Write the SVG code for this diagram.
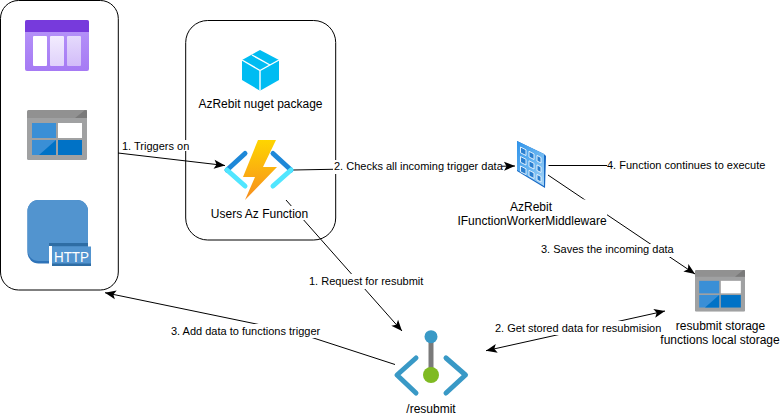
<svg xmlns="http://www.w3.org/2000/svg" xmlns:xlink="http://www.w3.org/1999/xlink" width="781" height="418" viewBox="0 0 781 418">
<style>
text{font-family:"Liberation Sans",Arial,Helvetica,sans-serif;fill:#000}
.n{font-size:12px;text-anchor:middle}
.e{font-size:11px}
.box{fill:#fff;stroke:#000;stroke-width:1}
.c{fill:none;stroke:#000;stroke-width:1;marker-end:url(#a)}
.bg{fill:#fff}
.chev{fill:none;stroke-width:5;stroke-linecap:round;stroke-linejoin:round}
</style>
<defs>
<marker id="a" markerUnits="userSpaceOnUse" markerWidth="14" markerHeight="12" refX="12" refY="6" orient="auto-start-reverse">
<path d="M1,1.5 L12,6 L1,10.5 L3.5,6 Z" fill="#000"/>
</marker>
<linearGradient id="pg" x1="0" y1="0" x2="0" y2="1"><stop offset="0" stop-color="#b796f9"/><stop offset="1" stop-color="#a67af4"/></linearGradient>
<linearGradient id="pc2" x1="0" y1="0" x2="0" y2="1"><stop offset="0" stop-color="#f2ecfe"/><stop offset="1" stop-color="#e0d2fb"/></linearGradient>
<linearGradient id="pc3" x1="0" y1="0" x2="0" y2="1"><stop offset="0" stop-color="#e5dafc"/><stop offset="1" stop-color="#d2bcf9"/></linearGradient>
<linearGradient id="bolt" x1="0" y1="0" x2="0" y2="1"><stop offset="0" stop-color="#fed500"/><stop offset="1" stop-color="#f78d1e"/></linearGradient>
<linearGradient id="tile" x1="0" y1="0" x2="1" y2="1"><stop offset="0" stop-color="#2f93ea"/><stop offset="0.600" stop-color="#6db8f2"/><stop offset="1" stop-color="#a9d5f6"/></linearGradient>
<symbol id="st" viewBox="0 0 60 50" preserveAspectRatio="none">
<rect width="60" height="50" rx="1.500" fill="#a0a1a2"/>
<path d="M1.500,0 H60 V8 H0 V1.500 Z" fill="#919191"/>
<path d="M48,8 L58,0 Q60,0 60,2 V8 Z" fill="#7a7a7a"/>
<rect x="5" y="13" width="24" height="15" fill="#3a8fd6"/>
<rect x="31" y="13" width="24" height="15" fill="#fff"/>
<rect x="5" y="30" width="24" height="15" fill="#3a8fd6"/>
<rect x="31" y="30" width="24" height="15" fill="#0072c6"/>
<path d="M12,45 L29,30 V45 Z" fill="#0072c6"/>
</symbol>
</defs>

<rect id="box-triggers" class="box" x="0.500" y="0.500" width="117.800" height="289.500" rx="18" ry="18"/>
<rect id="box-function" class="box" x="185.700" y="20.500" width="150" height="219.500" rx="22" ry="22"/>

<g id="connectors">
<path class="c" d="M118,153 L225,165.500"/>
<path class="c" d="M293,170 L515,166"/>
<path class="c" style="marker-end:none" d="M548.500,165.500 L610,165.500"/>
<path class="c" d="M548,175 L695,274"/>
<path class="c" d="M286,200 L402,331"/>
<path class="c" d="M395,364.500 L295,332 L105,292.700"/>
<path class="c" style="marker-start:url(#a)" d="M486,350.700 L665,311"/>
</g>

<g id="edge-labels">
<rect class="bg" x="120" y="140" width="70" height="11"/>
<text class="e" x="122" y="150">1. Triggers on</text>
<rect class="bg" x="333" y="160" width="169" height="14"/>
<text class="e" x="334" y="170">2. Checks all incoming trigger data</text>
<rect class="bg" x="607" y="159" width="160" height="13"/>
<text class="e" x="607" y="169">4. Function continues to execute</text>
<rect class="bg" x="539" y="244" width="135" height="13"/>
<text class="e" x="541" y="253">3. Saves the incoming data</text>
<rect class="bg" x="307" y="274" width="118" height="15"/>
<text class="e" x="309" y="285">1. Request for resubmit</text>
<rect class="bg" x="169" y="324" width="153" height="14"/>
<text class="e" x="171" y="335">3. Add data to functions trigger</text>
<rect class="bg" x="494" y="321" width="168" height="14"/>
<text class="e" x="495" y="332">2. Get stored data for resubmision</text>
</g>

<g id="queue-icon">
<rect x="25" y="20" width="64" height="51" rx="2" fill="url(#pg)"/>
<path d="M27,20 H87 Q89,20 89,22 V32 H25 V22 Q25,20 27,20 Z" fill="#773adc"/>
<rect x="33" y="36" width="14" height="30" rx="1" fill="#fff"/>
<rect x="50" y="36" width="14" height="30" rx="1" fill="url(#pc2)"/>
<rect x="67" y="36" width="14" height="30" rx="1" fill="url(#pc3)"/>
</g>
<g id="table-icon"><use xlink:href="#st" href="#st" x="27" y="110" width="60" height="50"/></g>
<g id="http-icon">
<rect x="27.500" y="200" width="60.500" height="63.500" rx="11" fill="#2e73b8"/>
<rect x="27.500" y="200" width="60.500" height="61" rx="11" fill="#5294cf"/>
<rect x="49" y="243" width="39" height="3.500" fill="#2e6da4"/>
<rect x="49" y="246" width="3" height="18" fill="#fff"/>
<rect x="52" y="246.500" width="39" height="19.500" fill="#5294cf"/>
<rect x="52" y="263.500" width="39" height="2.500" fill="#2e6da4"/>
<text x="54" y="262" font-size="15" textLength="35" lengthAdjust="spacingAndGlyphs" style="fill:#fff">HTTP</text>
</g>
<g id="nuget-package">
<path d="M260,50 L279,60 V80 L260,90.700 L242,80 V60 Z" fill="#00bcf2"/>
<path d="M242,60 L260,70.500 L279,60 M260,70.500 V90.700 M252,55 L270,65" fill="none" stroke="#fff" stroke-width="1.400"/>
<text class="n" x="260.500" y="108">AzRebit nuget package</text>
</g>
<g id="users-function">
<path class="chev" d="M245,153.500 L227,170" stroke="#1e88d8"/>
<path class="chev" d="M227,170 L245,186" stroke="#50e6ff"/>
<path class="chev" d="M273,153.500 L291,170" stroke="#1e88d8"/>
<path class="chev" d="M291,170 L273,186" stroke="#50e6ff"/>
<path d="M258,140 L243,177 L255,177 L245,200 L277,167 L263,167 L276,140 Z" fill="url(#bolt)"/>
<rect class="bg" x="210" y="206" width="94" height="14"/>
<text class="n" x="259.500" y="218">Users Az Function</text>
</g>
<g id="middleware">
<path d="M517,141 L544,154 L546,156 L545,188 L517,171 Z" fill="#1668c4"/>
<path d="M517,141 L544,154 L544,186 L517,170 Z" fill="url(#tile)"/>
<g fill="#2a7fd0" stroke="#f0f8fe" stroke-width="0.900">
<path d="M520.500,147 L526,149.800 V155.500 L520.500,152.800 Z"/>
<path d="M529,151.300 L534,153.900 V159.500 L529,157 Z"/>
<path d="M537,155.400 L541,157.500 V163 L537,161 Z"/>
<path d="M520.500,156.500 L526,159.300 V165 L520.500,162.300 Z"/>
<path d="M529,160.800 L534,163.400 V169 L529,166.500 Z"/>
<path d="M537,164.900 L541,167 V172.500 L537,170.500 Z"/>
<path d="M520.500,166 L526,168.800 V174.500 L520.500,171.800 Z"/>
<path d="M529,170.300 L534,172.900 V178.500 L529,176 Z"/>
<path d="M537,174.400 L541,176.500 V182 L537,180 Z"/>
</g>
<rect class="bg" x="457" y="199.500" width="150" height="28"/>
<text class="n" x="531" y="211">AzRebit</text>
<text class="n" x="532" y="225">IFunctionWorkerMiddleware</text>
</g>
<g id="resubmit-storage">
<use xlink:href="#st" href="#st" x="695" y="270" width="50" height="41.700"/>
<text class="n" x="720.500" y="330">resubmit storage</text>
<text class="n" x="720" y="344">functions local storage</text>
</g>
<g id="resubmit-api">
<path d="M431,337 V375" stroke="#7a7a7a" stroke-width="5" fill="none"/>
<circle cx="431" cy="336.700" r="6.500" fill="#3999c6"/>
<circle cx="431" cy="375" r="8" fill="#7fba22"/>
<path class="chev" d="M416,358 L397,375 L416,393 M446,358 L465.500,375 L446,393" stroke="#3999c6"/>
<text class="n" x="431" y="413">/resubmit</text>
</g>
</svg>
